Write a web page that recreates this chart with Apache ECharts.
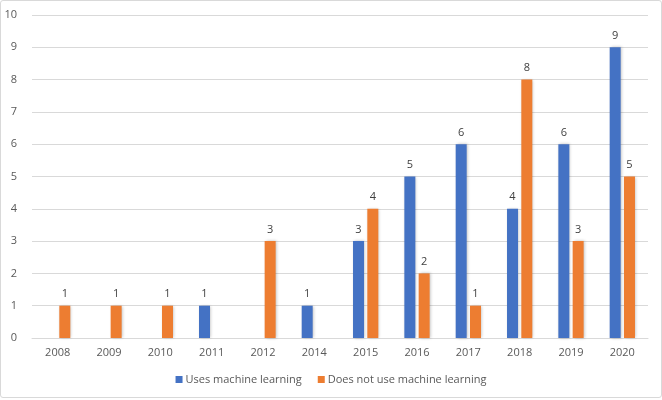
<!DOCTYPE html>
<html><head><meta charset="utf-8">
<script src="https://cdn.jsdelivr.net/npm/echarts@6/dist/echarts.min.js"></script>
<style>
html,body{margin:0;padding:0;background:#fff;}
#wrap{position:absolute;left:0;top:0;width:660px;height:396px;border:1px solid #d9d9d9;border-radius:3px;background:#fff;}
#c{width:662px;height:400px;position:absolute;left:-1px;top:-1px;}
</style></head>
<body><div id="wrap"><div id="c"></div></div>
<script>
const categories = ['2008','2009','2010','2011','2012','2014','2015','2016','2017','2018','2019','2020'];
const usesML = [null, null, null, 1, null, 1, 3, 5, 6, 4, 6, 9];
const notUsesML = [1, 1, 1, null, 3, null, 4, 2, 1, 8, 3, 5];
const yTicks = [0,1,2,3,4,5,6,7,8,9,10];
const seriesNames = ['Uses machine learning','Does not use machine learning'];

const chart = echarts.init(document.getElementById('c'));
const font = 'Open Sans, Noto Sans, sans-serif';
const lbl = {show:true, position:'top', color:'#404040', fontSize:11, fontFamily:font, distance:6};
chart.setOption({
  animation:false,
  textStyle:{fontFamily:font},
  grid:{left:32, right:14, top:15, bottom:62},
  legend:{bottom:10, left:'center', itemWidth:7, itemHeight:7, itemGap:16, icon:'rect',
    textStyle:{color:'#595959', fontSize:11, fontFamily:font, padding:[0,0,0,-2]}, data:seriesNames},
  xAxis:{type:'category', data:categories,
    axisLine:{lineStyle:{color:'#d9d9d9'}}, axisTick:{show:false},
    axisLabel:{color:'#595959', fontSize:11, fontFamily:font, margin:9}},
  yAxis:{type:'value', min:yTicks[0], max:yTicks[yTicks.length-1], interval:1,
    axisLine:{show:false}, axisTick:{show:false},
    splitLine:{lineStyle:{color:'#d9d9d9'}},
    axisLabel:{color:'#595959', fontSize:11, fontFamily:font, margin:15}},
  series:[
    {name:seriesNames[0], type:'bar', data:usesML, barWidth:11, barGap:'30%',
      itemStyle:{color:'#4472C4', shadowColor:'rgba(0,0,0,0.25)', shadowBlur:3, shadowOffsetX:1, shadowOffsetY:0},
      label:lbl},
    {name:seriesNames[1], type:'bar', data:notUsesML, barWidth:11, barGap:'30%',
      itemStyle:{color:'#ED7D31', shadowColor:'rgba(0,0,0,0.25)', shadowBlur:3, shadowOffsetX:1, shadowOffsetY:0},
      label:lbl}
  ]
});
</script></body></html>
